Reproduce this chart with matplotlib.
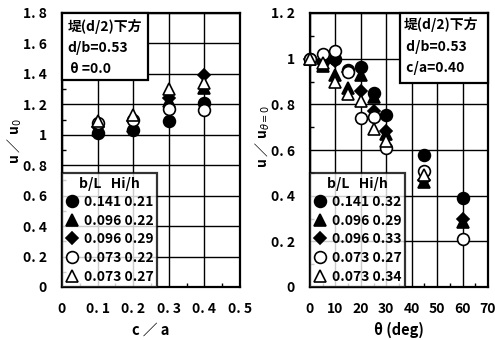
import matplotlib
matplotlib.use("Agg")
import numpy as np
import matplotlib.pyplot as plt
from matplotlib.patches import Rectangle
from matplotlib.ticker import MultipleLocator

plt.rcParams["font.family"] = ["Noto Sans CJK JP", "DejaVu Sans"]
plt.rcParams["mathtext.fontset"] = "dejavusans"

# 左: c/a に対する u/u0 (θ=0)
ca = [0.1, 0.2, 0.3, 0.4]
ca_141_21 = [1.01, 1.03, 1.09, 1.21]
ca_096_22 = [1.03, 1.06, 1.22, 1.31]
ca_096_29 = [1.05, 1.09, 1.24, 1.39]
ca_073_22 = [1.08, 1.10, 1.17, 1.16]
ca_073_27 = [1.09, 1.13, 1.30, 1.34]
ca_labels = ["0.141 0.21", "0.096 0.22", "0.096 0.29", "0.073 0.22", "0.073 0.27"]

# 右: θ に対する u/u(θ=0) (c/a=0.40)
theta = [0, 5, 10, 15, 20, 25, 30, 45, 60]
th_141_32 = [1.00, 0.99, 1.00, 0.95, 0.965, 0.85, 0.755, 0.58, 0.39]
th_096_29 = [1.00, 0.97, 0.93, 0.87, 0.93, 0.83, 0.67, 0.46, 0.285]
th_096_33 = [1.00, 0.98, 0.99, 0.94, 0.86, 0.77, 0.685, 0.47, 0.30]
th_073_27 = [1.00, 1.02, 1.035, 0.94, 0.74, 0.745, 0.61, 0.51, 0.21]
th_073_34 = [1.00, 0.98, 0.90, 0.845, 0.815, 0.69, 0.64, 0.49, np.nan]
th_labels = ["0.141 0.32", "0.096 0.29", "0.096 0.33", "0.073 0.27", "0.073 0.34"]

# 記号: ● ▲ ◆ ○ △
STYLES = [
    dict(marker="o", ms=8.5, mfc="black"),
    dict(marker="^", ms=8.5, mfc="black"),
    dict(marker="D", ms=6.5, mfc="black"),
    dict(marker="o", ms=8.5, mfc="white"),
    dict(marker="^", ms=8.5, mfc="white"),
]

TICK_FONT = dict(fontsize=10, fontweight="bold")
PX_H = 274.0  # 軸の高さ(px)


def setup_axes(ax, xmax, xstep, xminor, ymax, xticklabels, yticklabels):
    ax.set_xlim(0, xmax)
    ax.set_ylim(0, ymax)
    ax.set_xticks(np.arange(0, xmax + xstep / 2, xstep))
    ax.set_yticks(np.arange(0, ymax + 0.1, 0.2))
    ax.set_xticklabels(xticklabels, **TICK_FONT)
    ax.set_yticklabels(yticklabels, **TICK_FONT)
    ax.xaxis.set_minor_locator(MultipleLocator(xminor))
    ax.yaxis.set_minor_locator(MultipleLocator(0.1))
    ax.tick_params(which="both", direction="in", top=False, right=False)
    ax.tick_params(which="major", length=0, pad=11)
    ax.tick_params(which="minor", length=3, width=1)
    ax.grid(True, which="major", color="black", linewidth=1.0)
    for s in ax.spines.values():
        s.set_linewidth(1.6)


def info_box(ax, x0, y0, width, lines, tx, ys_px):
    ax.add_patch(Rectangle((x0, y0), width, 1 - y0,
                           transform=ax.transAxes, facecolor="white",
                           edgecolor="black", linewidth=1.6, zorder=5, clip_on=False))
    for txt, ypx in zip(lines, ys_px):
        ax.text(tx, (287 - ypx) / PX_H, txt, transform=ax.transAxes, fontsize=10,
                fontweight="bold", va="center", ha="left", zorder=6)


def data_legend(ax, handles, labels):
    leg = ax.legend(handles, labels, loc="lower left", bbox_to_anchor=(0, 0),
                    title="b/L   Hi/h", frameon=True, fancybox=False,
                    borderaxespad=0, handlelength=1.0, handletextpad=0.35,
                    labelspacing=0.33, borderpad=0.25,
                    prop=dict(size=10, weight="bold"))
    leg.get_title().set_fontsize(10)
    leg.get_title().set_fontweight("bold")
    leg.get_frame().set_edgecolor("black")
    leg.get_frame().set_linewidth(1.6)
    leg.set_zorder(7)
    return leg


fig = plt.figure(figsize=(4.95, 3.4), dpi=100)
ax1 = fig.add_axes([62 / 495, 53 / 340, 178 / 495, 274 / 340])
ax2 = fig.add_axes([310 / 495, 53 / 340, 178 / 495, 274 / 340])

# 左パネル
setup_axes(ax1, 0.5, 0.1, 0.05, 1.8,
           ["0", "0. 1", "0. 2", "0. 3", "0. 4", "0. 5"],
           ["0", "0. 2", "0. 4", "0. 6", "0. 8", "1", "1. 2", "1. 4", "1. 6", "1. 8"])
h1 = []
for ys, st in zip([ca_141_21, ca_096_22, ca_096_29, ca_073_22, ca_073_27], STYLES):
    h, = ax1.plot(ca, ys, linestyle="none", mec="black", mew=1.2, zorder=3,
                  clip_on=False, **st)
    h1.append(h)
data_legend(ax1, h1, ca_labels)
info_box(ax1, 0.0, 0.755, 0.483, ["堤(d/2)下方", "d/b=0.53", " θ =0.0"], 0.03, [27, 48, 69])
ax1.set_xlabel("c ／ a", fontsize=10.5, fontweight="bold", labelpad=4)
ax1.set_ylabel(r"u ／ u$_{0}$", fontsize=10, fontweight="bold")
ax1.yaxis.set_label_coords(-0.215, 0.533)

# 右パネル
setup_axes(ax2, 70, 10, 5, 1.2,
           ["0", "10", "20", "30", "40", "50", "60", "70"],
           ["0", "0. 2", "0. 4", "0. 6", "0. 8", "1", "1. 2"])
h2 = []
for ys, st in zip([th_141_32, th_096_29, th_096_33, th_073_27, th_073_34], STYLES):
    h, = ax2.plot(theta, ys, linestyle="none", mec="black", mew=1.2, zorder=3,
                  clip_on=False, **st)
    h2.append(h)
data_legend(ax2, h2, th_labels)
info_box(ax2, 0.506, 0.745, 0.494, ["堤(d/2)下方", " d/b=0.53", " c/a=0.40"], 0.525, [25, 47, 68])
ax2.set_xlabel("θ (deg)", fontsize=10.5, fontweight="bold", labelpad=4)
ax2.set_ylabel(r"u ／ u$_{\theta=0}$", fontsize=10, fontweight="bold")
ax2.yaxis.set_label_coords(-0.215, 0.55)

fig.savefig("out.png", dpi=100)
